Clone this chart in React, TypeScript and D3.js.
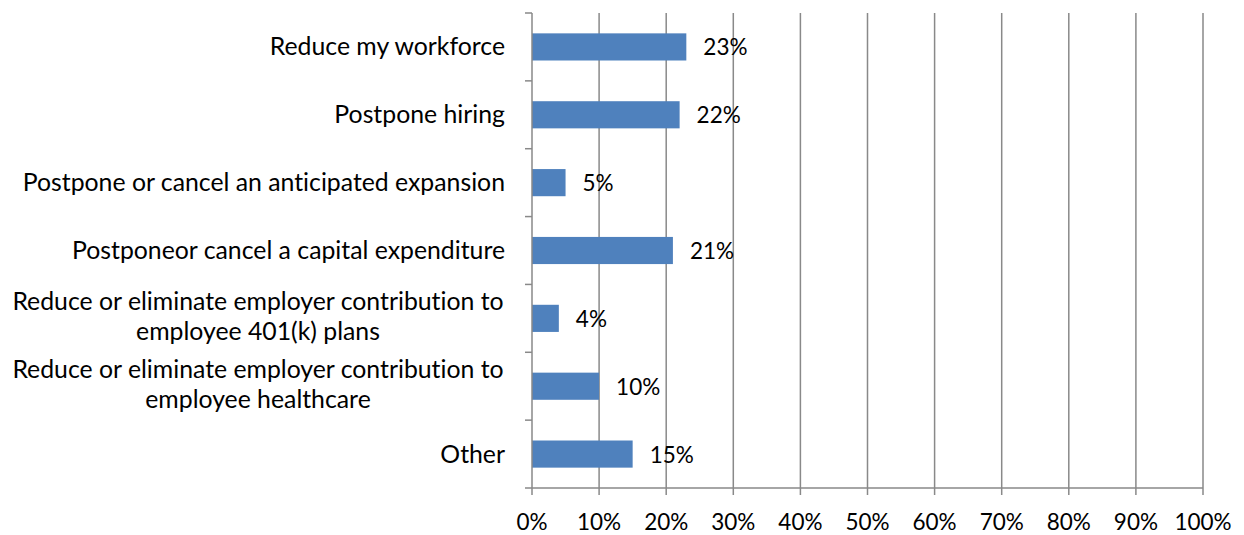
import React from "react";
import * as d3 from "d3";

const categories: string[][] = [
  ["Reduce my workforce"],
  ["Postpone hiring"],
  ["Postpone or cancel an anticipated expansion"],
  ["Postponeor cancel a capital expenditure"],
  ["Reduce or eliminate employer contribution to", "employee 401(k) plans"],
  ["Reduce or eliminate employer contribution to", "employee healthcare"],
  ["Other"],
];
const values: number[] = [0.23, 0.22, 0.05, 0.21, 0.04, 0.1, 0.15];
const xTicks: number[] = [0, 0.1, 0.2, 0.3, 0.4, 0.5, 0.6, 0.7, 0.8, 0.9, 1.0];

const W = 1244;
const H = 535;
const FONT = "Lato, 'Open Sans', sans-serif";
const FS = 22.5;
const FS_CAT = 24.8;

export default function App() {
  const left = 532;
  const right = 1203;
  const top = 13;
  const bottom = 488;
  const x = d3.scaleLinear().domain([0, 1]).range([left, right]);
  const y = d3
    .scaleBand<number>()
    .domain(d3.range(categories.length))
    .range([top, bottom])
    .paddingInner(0.6)
    .paddingOuter(0.3);
  const step = (bottom - top) / categories.length;
  const fmt = d3.format(".0%");
  const grid = "#898989";

  return (
    <svg
      width={W}
      height={H}
      style={{ position: "absolute", left: 0, top: 0, background: "#fff", fontVariantLigatures: "none" }}
      fontFamily={FONT}
    >
      {xTicks.slice(1).map((t) => (
        <line key={"g" + t} x1={x(t)} x2={x(t)} y1={top} y2={bottom} stroke={grid} strokeWidth={1.5} />
      ))}
      {values.map((v, i) => (
        <rect
          key={"b" + i}
          x={x(0)}
          y={y(i)!}
          width={x(v) - x(0)}
          height={y.bandwidth()}
          fill="#4F81BD"
        />
      ))}
      <line x1={left} x2={left} y1={top} y2={bottom} stroke={grid} strokeWidth={1.5} />
      {d3.range(categories.length + 1).map((i) => (
        <line key={"yt" + i} x1={left - 7} x2={left} y1={top + i * step} y2={top + i * step} stroke={grid} strokeWidth={1.5} />
      ))}
      <line x1={left} x2={right} y1={bottom} y2={bottom} stroke={grid} strokeWidth={1.5} />
      {xTicks.map((t) => (
        <line key={"xt" + t} x1={x(t)} x2={x(t)} y1={bottom} y2={bottom + 7} stroke={grid} strokeWidth={1.5} />
      ))}
      {xTicks.map((t) => (
        <text key={"xl" + t} x={x(t)} y={521} textAnchor="middle" dominantBaseline="central" fontSize={FS} fill="#000">
          {fmt(t)}
        </text>
      ))}
      {categories.map((lines, i) => {
        const cy = y(i)! + y.bandwidth() / 2;
        if (lines.length === 1) {
          return (
            <text key={"c" + i} x={505} y={cy - 1} textAnchor="end" dominantBaseline="central" fontSize={FS_CAT} fill="#000">
              {lines[0]}
            </text>
          );
        }
        const lh = 30;
        return (
          <text key={"c" + i} x={258} textAnchor="middle" dominantBaseline="central" fontSize={FS_CAT} fill="#000">
            {lines.map((l, j) => (
              <tspan key={j} x={258} y={cy - 3 + (j - (lines.length - 1) / 2) * lh}>
                {l}
              </tspan>
            ))}
          </text>
        );
      })}
      {values.map((v, i) => (
        <text
          key={"v" + i}
          x={x(v) + 17}
          y={y(i)! + y.bandwidth() / 2}
          dominantBaseline="central"
          fontSize={FS}
          fill="#000"
        >
          {fmt(v)}
        </text>
      ))}
    </svg>
  );
}
